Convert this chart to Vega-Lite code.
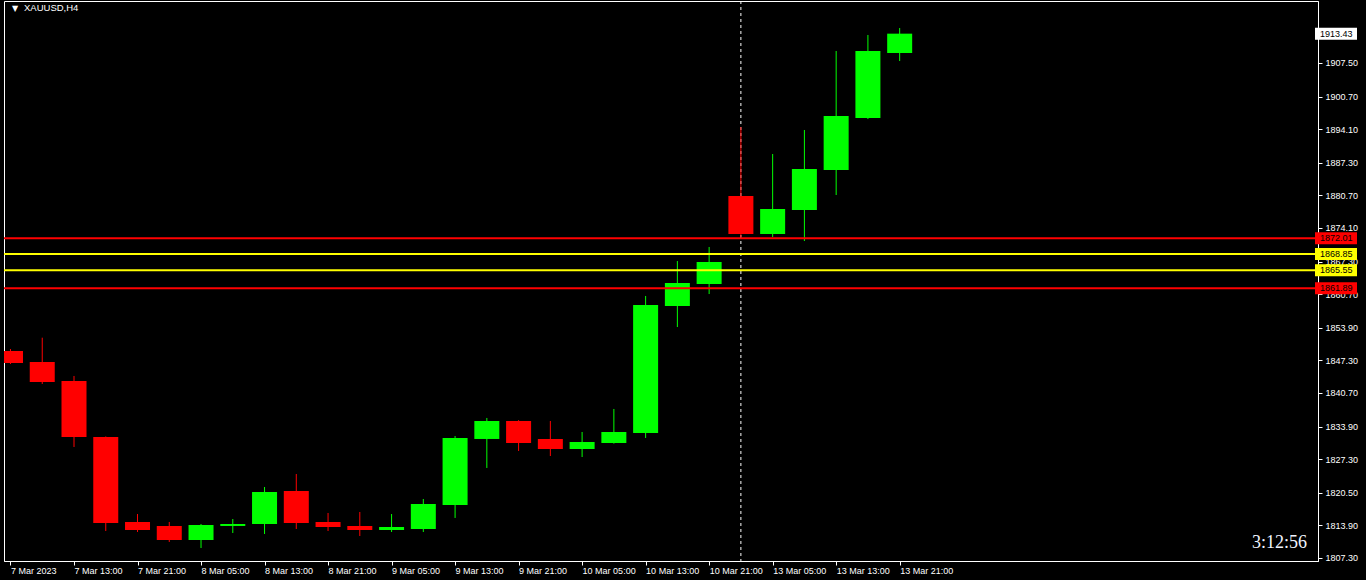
{
  "$schema": "https://vega.github.io/schema/vega-lite/v6.json",
  "width": 1314,
  "height": 560,
  "autosize": "none",
  "padding": {"left": 4, "top": 1, "right": 48, "bottom": 19},
  "background": "#000000",
  "config": {
    "view": {"stroke": "#ffffff", "strokeWidth": 1},
    "font": "Liberation Sans",
    "axis": {"labelOverlap": false, "labelFlush": false, "grid": false, "labelColor": "#ffffff", "tickColor": "#ffffff", "domainColor": "#ffffff", "labelFontSize": 9, "labelFont": "Liberation Sans", "tickSize": 4},
    "axisY": {"labelPadding": 3},
    "axisX": {"labelPadding": 1}
  },
  "datasets": {
    "candles": [
      {"i": 0, "t": "7 Mar 05:00", "open": 1849.20, "high": 1849.60, "low": 1846.57, "close": 1846.77},
      {"i": 1, "t": "7 Mar 09:00", "open": 1846.97, "high": 1851.89, "low": 1842.52, "close": 1842.92},
      {"i": 2, "t": "7 Mar 13:00", "open": 1843.12, "high": 1844.14, "low": 1829.77, "close": 1831.79},
      {"i": 3, "t": "7 Mar 17:00", "open": 1831.79, "high": 1831.90, "low": 1812.76, "close": 1814.38},
      {"i": 4, "t": "7 Mar 21:00", "open": 1814.59, "high": 1816.20, "low": 1812.56, "close": 1812.97},
      {"i": 5, "t": "8 Mar 01:00", "open": 1813.78, "high": 1814.59, "low": 1810.54, "close": 1810.94},
      {"i": 6, "t": "8 Mar 05:00", "open": 1810.94, "high": 1814.18, "low": 1809.32, "close": 1813.98},
      {"i": 7, "t": "8 Mar 09:00", "open": 1813.78, "high": 1815.19, "low": 1812.36, "close": 1814.18},
      {"i": 8, "t": "8 Mar 13:00", "open": 1814.18, "high": 1821.67, "low": 1812.16, "close": 1820.66},
      {"i": 9, "t": "8 Mar 17:00", "open": 1820.86, "high": 1824.30, "low": 1813.17, "close": 1814.38},
      {"i": 10, "t": "8 Mar 21:00", "open": 1814.59, "high": 1816.41, "low": 1812.76, "close": 1813.57},
      {"i": 11, "t": "9 Mar 01:00", "open": 1813.78, "high": 1816.61, "low": 1811.75, "close": 1812.97},
      {"i": 12, "t": "9 Mar 05:00", "open": 1812.97, "high": 1816.20, "low": 1812.56, "close": 1813.57},
      {"i": 13, "t": "9 Mar 09:00", "open": 1813.17, "high": 1819.24, "low": 1812.56, "close": 1818.23},
      {"i": 14, "t": "9 Mar 13:00", "open": 1818.03, "high": 1831.99, "low": 1815.40, "close": 1831.59},
      {"i": 15, "t": "9 Mar 17:00", "open": 1831.39, "high": 1835.64, "low": 1825.52, "close": 1835.03},
      {"i": 16, "t": "9 Mar 21:00", "open": 1835.03, "high": 1835.20, "low": 1828.96, "close": 1830.58},
      {"i": 17, "t": "10 Mar 01:00", "open": 1831.39, "high": 1835.03, "low": 1827.94, "close": 1829.36},
      {"i": 18, "t": "10 Mar 05:00", "open": 1829.36, "high": 1832.80, "low": 1827.74, "close": 1830.78},
      {"i": 19, "t": "10 Mar 09:00", "open": 1830.58, "high": 1837.46, "low": 1830.45, "close": 1832.80},
      {"i": 20, "t": "10 Mar 13:00", "open": 1832.60, "high": 1860.33, "low": 1831.59, "close": 1858.51},
      {"i": 21, "t": "10 Mar 17:00", "open": 1858.30, "high": 1867.41, "low": 1854.05, "close": 1862.96},
      {"i": 22, "t": "10 Mar 21:00", "open": 1862.76, "high": 1870.25, "low": 1860.73, "close": 1867.21},
      {"i": 23, "t": "13 Mar 01:00", "open": 1880.57, "high": 1894.53, "low": 1872.27, "close": 1872.88},
      {"i": 24, "t": "13 Mar 05:00", "open": 1872.88, "high": 1889.07, "low": 1872.27, "close": 1877.94},
      {"i": 25, "t": "13 Mar 09:00", "open": 1877.74, "high": 1893.93, "low": 1871.46, "close": 1886.03},
      {"i": 26, "t": "13 Mar 13:00", "open": 1885.83, "high": 1909.92, "low": 1880.77, "close": 1896.76},
      {"i": 27, "t": "13 Mar 17:00", "open": 1896.36, "high": 1913.16, "low": 1896.15, "close": 1909.92},
      {"i": 28, "t": "13 Mar 21:00", "open": 1909.51, "high": 1914.57, "low": 1907.89, "close": 1913.43}
    ],
    "levels": [
      {"price": 1913.43, "level": "bid"},
      {"price": 1872.01, "level": "outer"},
      {"price": 1868.85, "level": "inner"},
      {"price": 1865.55, "level": "inner"},
      {"price": 1861.89, "level": "outer"}
    ],
    "separators": [{"i": 23}],
    "notes": [{"symbol": "▼", "label": "XAUUSD,H4", "timer": "3:12:56"}]
  },
  "layer": [
    {
      "data": {"name": "separators"},
      "mark": {"type": "rule", "color": "#ffffff", "strokeWidth": 1, "strokeDash": [3, 3]},
      "encoding": {
        "x": {"field": "i", "type": "quantitative", "title": null,
          "scale": {"domain": [-0.046875, 41.015625], "nice": false, "zero": false},
          "axis": {
            "values": [0, 2, 4, 6, 8, 10, 12, 14, 16, 18, 20, 22, 24, 26, 28],
            "tickCount": 40,
            "labelExpr": "['7 Mar 2023','7 Mar 13:00','7 Mar 21:00','8 Mar 05:00','8 Mar 13:00','8 Mar 21:00','9 Mar 05:00','9 Mar 13:00','9 Mar 21:00','10 Mar 05:00','10 Mar 13:00','10 Mar 21:00','13 Mar 05:00','13 Mar 13:00','13 Mar 21:00'][round(datum.value/2)]",
            "labelAlign": "left", "labelBaseline": "top", "labelOverlap": false, "labelFlush": false
          }
        }
      }
    },
    {
      "data": {"name": "candles"},
      "mark": {"type": "rule", "strokeWidth": 1, "clip": true},
      "encoding": {
        "x": {"field": "i", "type": "quantitative", "title": null},
        "y": {"field": "low", "type": "quantitative", "title": null,
          "scale": {"domain": [1806.69, 1920.04], "nice": false, "zero": false},
          "axis": {
            "orient": "right",
            "values": [1807.3, 1813.9, 1820.5, 1827.3, 1833.9, 1840.7, 1847.3, 1853.9, 1860.7, 1867.3, 1874.1, 1880.7, 1887.3, 1894.1, 1900.7, 1907.5],
            "tickCount": 40,
            "format": ".2f", "labelOverlap": false, "labelFlush": false
          }
        },
        "y2": {"field": "high"},
        "color": {"condition": {"test": "datum.close >= datum.open", "value": "#00ff00"}, "value": "#ff0000"}
      }
    },
    {
      "data": {"name": "candles"},
      "mark": {"type": "bar", "size": 25, "clip": true, "orient": "vertical"},
      "encoding": {
        "x": {"field": "i", "type": "quantitative", "title": null},
        "y": {"field": "open", "type": "quantitative", "title": null},
        "y2": {"field": "close"},
        "color": {"condition": {"test": "datum.close >= datum.open", "value": "#00ff00"}, "value": "#ff0000"}
      }
    },
    {
      "data": {"name": "levels"},
      "transform": [{"filter": "datum.level != 'bid'"}],
      "mark": {"type": "rule", "strokeWidth": 2},
      "encoding": {
        "y": {"field": "price", "type": "quantitative", "title": null},
        "color": {"field": "level", "type": "nominal", "legend": null,
          "scale": {"domain": ["outer", "inner", "bid"], "range": ["#ff0000", "#ffff00", "#ffffff"]}}
      }
    },
    {
      "data": {"name": "levels"},
      "mark": {"type": "point", "filled": true, "opacity": 1, "strokeWidth": 0, "size": 400,
        "shape": "M0.2,-0.6L4.4,-0.6L4.4,0.6L0.2,0.6Z"},
      "encoding": {
        "x": {"datum": 41.015625},
        "y": {"field": "price", "type": "quantitative", "title": null},
        "color": {"field": "level", "type": "nominal", "legend": null}
      }
    },
    {
      "data": {"name": "levels"},
      "mark": {"type": "text", "align": "left", "baseline": "middle", "dx": 7, "fontSize": 9, "font": "Liberation Sans", "color": "#000000"},
      "encoding": {
        "x": {"datum": 41.015625},
        "y": {"field": "price", "type": "quantitative", "title": null},
        "text": {"field": "price", "type": "quantitative", "format": ".2f"}
      }
    },
    {
      "data": {"name": "notes"},
      "mark": {"type": "text", "align": "left", "baseline": "top", "dx": 3, "dy": 4, "fontSize": 8, "font": "DejaVu Sans", "color": "#ffffff"},
      "encoding": {
        "x": {"datum": -0.046875},
        "y": {"datum": 1920.04},
        "text": {"field": "symbol"}
      }
    },
    {
      "data": {"name": "notes"},
      "mark": {"type": "text", "align": "left", "baseline": "top", "dx": 15, "dy": 2, "fontSize": 9.5, "font": "Liberation Sans", "color": "#ffffff"},
      "encoding": {
        "x": {"datum": -0.046875},
        "y": {"datum": 1920.04},
        "text": {"field": "label"}
      }
    },
    {
      "data": {"name": "notes"},
      "mark": {"type": "text", "align": "right", "baseline": "alphabetic", "dx": -6, "dy": -13, "fontSize": 18, "font": "Liberation Serif", "color": "#f0f4ff"},
      "encoding": {
        "x": {"datum": 41.015625},
        "y": {"datum": 1806.69},
        "text": {"field": "timer"}
      }
    }
  ]
}
